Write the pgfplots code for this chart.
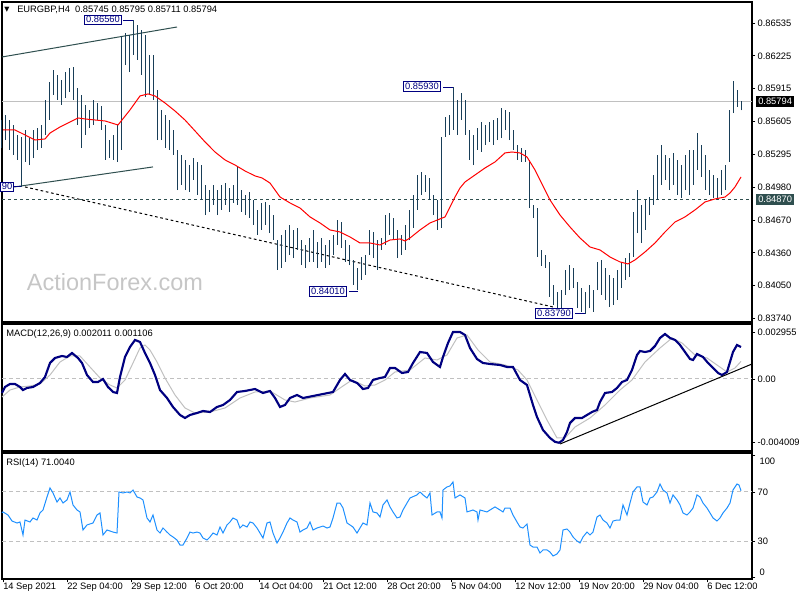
\documentclass[border=0pt]{standalone}
\usepackage{fontspec}
\setmainfont{Liberation Sans}
\newfontfamily\dejavu{DejaVu Sans}
\usepackage{pgfplots}
\usepackage{pgfplotstable}
\pgfplotsset{compat=1.18}
\definecolor{barc}{RGB}{24,62,88}
\definecolor{slate}{RGB}{47,79,79}
\definecolor{macdc}{RGB}{0,0,128}
\definecolor{sigc}{RGB}{192,192,192}
\definecolor{rsic}{RGB}{30,144,255}
\definecolor{lblc}{RGB}{0,0,128}
\definecolor{wm}{RGB}{198,198,198}

\pgfplotstableread{
x h l
1 0.85619 0.85355
5 0.85666 0.85430
9 0.85619 0.85336
13 0.85572 0.85289
17 0.85478 0.85242
21 0.85459 0.84990
25 0.85525 0.85223
29 0.85449 0.85194
33 0.85525 0.85260
37 0.85544 0.85336
41 0.85572 0.85355
45 0.85808 0.85478
49 0.85978 0.85619
53 0.86091 0.85855
57 0.86044 0.85808
61 0.85997 0.85761
65 0.86072 0.85827
69 0.86110 0.85884
73 0.86120 0.85808
77 0.85921 0.85572
81 0.85855 0.85355
85 0.85761 0.85478
89 0.85714 0.85544
93 0.85808 0.85572
97 0.85780 0.85619
101 0.85751 0.85525
105 0.85572 0.85242
109 0.85430 0.85260
113 0.85478 0.85242
117 0.85572 0.85223
121 0.86412 0.85336
125 0.86440 0.86138
129 0.86422 0.86072
133 0.86560 0.86233
137 0.86516 0.86186
141 0.86469 0.86044
145 0.86422 0.85836
149 0.86233 0.85855
153 0.86233 0.85808
157 0.85902 0.85430
161 0.85714 0.85430
165 0.85666 0.85355
169 0.85619 0.85336
173 0.85525 0.85289
177 0.85336 0.84958
181 0.85289 0.85006
185 0.85242 0.84958
189 0.85194 0.84940
193 0.85260 0.85053
197 0.85223 0.84911
201 0.85194 0.84864
205 0.85006 0.84722
209 0.84958 0.84751
213 0.85006 0.84817
217 0.84958 0.84722
221 0.85006 0.84770
225 0.85024 0.84817
229 0.84977 0.84751
233 0.85006 0.84836
237 0.85176 0.84817
241 0.84958 0.84751
245 0.84911 0.84722
249 0.84940 0.84694
253 0.84864 0.84628
257 0.84770 0.84534
261 0.84836 0.84581
265 0.84845 0.84628
269 0.84817 0.84552
273 0.84722 0.84486
277 0.84486 0.84203
281 0.84534 0.84222
285 0.84581 0.84279
289 0.84628 0.84345
293 0.84581 0.84316
297 0.84600 0.84392
301 0.84486 0.84250
305 0.84439 0.84222
309 0.84505 0.84279
313 0.84581 0.84279
317 0.84468 0.84222
321 0.84505 0.84279
325 0.84439 0.84222
329 0.84486 0.84250
333 0.84534 0.84345
337 0.84675 0.84439
341 0.84656 0.84411
345 0.84486 0.84279
349 0.84439 0.84250
353 0.84298 0.84062
357 0.84222 0.84010
361 0.84326 0.84109
365 0.84345 0.84156
369 0.84581 0.84345
373 0.84562 0.84316
377 0.84486 0.84203
381 0.84505 0.84392
385 0.84722 0.84439
389 0.84741 0.84534
393 0.84694 0.84486
397 0.84581 0.84316
401 0.84534 0.84345
405 0.84628 0.84392
409 0.84770 0.84486
413 0.84911 0.84600
417 0.85100 0.84770
421 0.85128 0.84911
425 0.85100 0.84940
429 0.85072 0.84864
433 0.84911 0.84722
437 0.84864 0.84581
441 0.85459 0.84600
445 0.85648 0.85459
449 0.85666 0.85478
453 0.85930 0.85525
457 0.85808 0.85478
461 0.85874 0.85619
465 0.85808 0.85478
469 0.85525 0.85242
473 0.85478 0.85194
477 0.85544 0.85336
481 0.85600 0.85317
485 0.85572 0.85383
489 0.85600 0.85412
493 0.85619 0.85383
497 0.85638 0.85430
501 0.85732 0.85449
505 0.85714 0.85525
509 0.85695 0.85430
513 0.85525 0.85336
517 0.85383 0.85242
521 0.85355 0.85223
525 0.85336 0.85223
529 0.85242 0.84788
533 0.84817 0.84694
537 0.84788 0.84326
541 0.84392 0.84241
545 0.84345 0.84222
549 0.84279 0.83948
553 0.84062 0.83873
557 0.83996 0.83826
561 0.84014 0.83826
565 0.84203 0.83967
569 0.84250 0.84014
573 0.84222 0.84033
577 0.84090 0.83844
581 0.84033 0.83807
585 0.83996 0.83790
589 0.84062 0.83844
593 0.84014 0.83807
597 0.84279 0.84014
601 0.84298 0.83967
605 0.84222 0.83920
609 0.84156 0.83854
613 0.84128 0.83873
617 0.84203 0.83920
621 0.84269 0.84033
625 0.84316 0.84109
629 0.84364 0.84137
633 0.84751 0.84326
637 0.84958 0.84552
641 0.84817 0.84458
645 0.84864 0.84581
649 0.84892 0.84722
653 0.85100 0.84817
657 0.85289 0.84864
661 0.85383 0.85006
665 0.85289 0.85053
669 0.85260 0.84958
673 0.85308 0.85006
677 0.85242 0.84911
681 0.85194 0.84883
685 0.85289 0.84958
689 0.85336 0.84911
693 0.85336 0.85006
697 0.85496 0.85147
701 0.85383 0.85081
705 0.85289 0.84958
709 0.85147 0.84911
713 0.85100 0.84883
717 0.85072 0.84864
721 0.85147 0.84911
725 0.85194 0.84958
729 0.85714 0.85223
733 0.85987 0.85685
737 0.85902 0.85742
741 0.85795 0.85711
}\bars

\pgfplotstableread{
x ma
3 0.85525
15 0.85525
25 0.85478
35 0.85430
45 0.85440
50 0.85496
60 0.85553
70 0.85600
78 0.85638
85 0.85629
95 0.85619
105 0.85610
118 0.85572
130 0.85714
140 0.85846
148 0.85865
155 0.85846
165 0.85780
175 0.85704
185 0.85619
195 0.85516
205 0.85412
215 0.85317
225 0.85242
235 0.85194
245 0.85138
255 0.85091
262 0.85072
270 0.85024
280 0.84892
290 0.84836
300 0.84788
310 0.84704
320 0.84647
330 0.84581
340 0.84562
350 0.84515
360 0.84458
370 0.84458
380 0.84439
390 0.84486
400 0.84496
405 0.84477
410 0.84505
420 0.84581
430 0.84647
440 0.84685
445 0.84704
450 0.84798
455 0.84892
460 0.84977
465 0.85034
475 0.85100
485 0.85166
495 0.85223
505 0.85308
512 0.85317
520 0.85308
527 0.85270
535 0.85147
540 0.85053
550 0.84864
560 0.84722
570 0.84609
580 0.84505
590 0.84420
600 0.84392
610 0.84326
620 0.84279
628 0.84260
635 0.84298
645 0.84373
655 0.84458
665 0.84562
675 0.84656
685 0.84704
695 0.84770
705 0.84845
715 0.84874
725 0.84892
730 0.84930
735 0.84987
741 0.85081
}\mavals

\pgfplotstableread{
x m
2 -0.000880
5 -0.000503
10 -0.000314
15 -0.000314
20 -0.000503
23 -0.000692
27 -0.000566
33 -0.000503
40 -0.000251
45 0.000126
50 0.001006
55 0.001320
62 0.001446
67 0.001383
72 0.001635
78 0.001320
82 0.001006
87 0.000251
93 -0.000189
98 -0.000189
103 0.000000
108 -0.000503
113 -0.000817
117 -0.000880
120 0.000126
125 0.001383
130 0.002012
135 0.002452
140 0.002326
145 0.001635
150 0.001006
155 0.000251
160 -0.000692
167 -0.001195
173 -0.001760
180 -0.002263
185 -0.002452
190 -0.002263
197 -0.002138
203 -0.002012
210 -0.002075
217 -0.001760
223 -0.001635
230 -0.001320
237 -0.000817
245 -0.000754
255 -0.000629
263 -0.000880
270 -0.000754
275 -0.001195
280 -0.001760
285 -0.001635
290 -0.001195
297 -0.001006
303 -0.001195
313 -0.001069
323 -0.000943
333 -0.000817
340 -0.000063
345 0.000314
350 -0.000063
357 -0.000251
363 -0.000629
368 -0.000566
373 -0.000063
380 0.000063
385 0.000126
390 0.000692
395 0.000692
402 0.000377
408 0.000440
413 0.001006
420 0.001697
427 0.001635
433 0.001069
440 0.000754
443 0.001383
448 0.002263
453 0.002955
460 0.002955
465 0.002766
470 0.001949
477 0.001257
483 0.001006
490 0.000943
500 0.000880
507 0.000754
513 0.000754
520 -0.000063
527 -0.000377
533 -0.001635
537 -0.002389
543 -0.003206
550 -0.003709
555 -0.003950
559 -0.004009
563 -0.003835
567 -0.003332
570 -0.002766
575 -0.002452
582 -0.002452
587 -0.002263
592 -0.002075
597 -0.001949
600 -0.001446
605 -0.000880
612 -0.000817
617 -0.000566
622 -0.000189
627 -0.000063
632 0.000566
637 0.001509
640 0.001760
645 0.001697
650 0.001760
655 0.002075
660 0.002578
665 0.002829
670 0.002578
675 0.002452
680 0.002138
685 0.001697
690 0.001257
693 0.001195
697 0.001572
703 0.001383
708 0.001006
713 0.000692
718 0.000377
722 0.000251
727 0.000440
730 0.001069
733 0.001697
737 0.002138
741 0.002011
}\macd

\pgfplotstableread{
x s
2 -0.001132
10 -0.000692
20 -0.000503
30 -0.000440
40 -0.000314
50 0.000251
60 0.001069
70 0.001446
80 0.001446
90 0.000754
100 0.000063
110 -0.000377
117 -0.000566
125 -0.000063
133 0.001006
140 0.001949
145 0.002138
150 0.001823
157 0.001069
165 0.000063
175 -0.001006
185 -0.001823
195 -0.002138
210 -0.002075
225 -0.001823
240 -0.001195
255 -0.000817
270 -0.000754
285 -0.001320
295 -0.001446
310 -0.001195
330 -0.001006
343 -0.000440
352 -0.000063
365 -0.000440
375 -0.000377
385 -0.000063
395 0.000440
410 0.000566
425 0.001320
437 0.001195
447 0.001509
457 0.002578
467 0.002766
478 0.001823
490 0.001069
505 0.000880
518 0.000566
527 -0.000063
537 -0.001320
547 -0.002578
557 -0.003709
565 -0.003709
575 -0.003018
590 -0.002452
605 -0.001635
620 -0.000692
632 -0.000063
645 0.001069
660 0.001949
672 0.002578
682 0.002263
695 0.001509
707 0.001320
717 0.000880
727 0.000440
735 0.000692
741 0.001106
}\signal

\pgfplotstableread{
x r
2 52.9
3 53.7
8 51.2
12 46.3
17 44.7
20 45.5
23 34.9
25 47.1
30 45.5
33 48.8
37 47.1
40 52.9
43 55.3
47 65.9
50 73.3
53 69.2
57 61.8
60 65.1
63 61.0
67 63.5
70 70.0
73 59.4
77 55.3
80 53.7
83 39.0
87 43.1
93 44.7
97 51.2
100 52.9
103 34.9
107 39.0
113 37.3
117 36.5
119 70.0
123 69.2
127 70.0
130 69.2
133 71.6
137 65.9
140 65.1
143 63.5
147 48.8
150 45.5
153 51.2
157 39.0
160 36.5
163 40.6
167 37.3
170 34.9
173 33.3
177 30.8
180 26.7
183 26.7
187 32.4
190 37.3
193 36.5
197 37.3
200 36.5
203 32.4
207 30.8
210 33.3
213 36.5
217 34.9
220 41.4
223 36.5
227 43.1
230 45.5
233 48.8
237 47.1
240 40.6
243 43.1
247 41.4
250 45.5
253 44.7
257 40.6
260 36.5
263 32.4
267 44.7
270 45.5
273 36.5
277 28.4
280 32.4
283 37.3
287 44.7
290 48.8
293 47.1
297 45.5
300 37.3
303 39.0
307 40.6
310 45.5
313 39.0
317 40.6
320 41.4
323 42.2
327 40.6
330 41.4
333 48.8
337 61.0
340 61.0
343 56.9
347 44.7
350 43.1
353 41.4
357 36.5
360 40.6
363 44.7
367 43.1
370 61.0
373 53.7
377 52.9
380 49.6
383 59.4
387 63.5
390 57.8
393 53.7
397 48.8
400 49.6
403 55.3
407 61.0
410 65.1
417 67.6
420 70.0
423 67.6
427 65.1
430 69.2
432 51.2
437 53.7
440 53.7
442 48.8
443 71.6
447 74.1
450 74.9
453 78.2
455 65.1
460 67.6
465 65.1
467 53.7
473 55.3
477 53.7
478 47.1
480 55.3
487 53.7
490 55.3
495 57.8
500 55.3
503 53.7
505 56.9
510 56.9
513 51.2
517 45.5
520 41.4
523 40.6
527 43.9
530 26.7
533 25.1
537 25.1
540 20.2
543 22.7
547 22.7
550 21.0
553 17.8
557 19.4
560 22.7
563 39.0
567 39.8
570 37.3
573 33.3
577 30.0
580 28.4
583 33.3
587 37.3
590 34.9
593 37.3
597 49.6
600 51.2
603 47.1
607 44.7
610 40.6
613 46.3
617 47.1
620 47.1
623 59.4
627 51.2
630 61.0
633 70.0
637 74.1
640 74.1
643 61.8
647 59.4
650 65.1
653 65.9
657 70.0
660 76.5
663 71.6
667 69.2
670 61.0
673 67.6
677 63.5
680 59.4
683 52.9
687 51.2
690 53.7
693 56.9
697 67.6
700 65.9
703 61.0
707 56.9
710 52.9
713 48.8
717 46.3
720 48.8
723 52.9
727 56.9
730 61.0
733 71.6
737 76.5
739 75.7
741 71.0
}\rsi

\pgfplotsset{
  mtframe/.style={
    scale only axis, anchor=south west, width=562.5pt,
    xmin=2, xmax=752, clip=false,
    axis line style={line width=1pt},
    scaled y ticks=false,
    ytick pos=right, yticklabel pos=right,
    tick align=outside, major tick length=2.5pt,
    tick style={black, line width=0.6pt},
    yticklabel style={font=\fontsize{7}{8}\selectfont, anchor=west, inner sep=0pt, xshift=1.5pt},
  },
}

\begin{document}
\begin{tikzpicture}
\path[use as bounding box] (0,0) rectangle (600pt,450pt);

% ---------------- price panel
\begin{axis}[mtframe,
  at={(1.5pt,208.5pt)}, height=240pt,
  ymin=0.83712, ymax=0.86733,
  xtick=\empty,
  ytick={0.86535,0.86225,0.85915,0.85605,0.85295,0.84985,0.84675,0.84365,0.84055,0.83745},
  yticklabels={0.86535,0.86225,0.85915,0.85605,0.85295,0.84980,0.84670,0.84360,0.84050,0.83740},
]
\node[text=wm, font=\fontsize{17.6}{20}\selectfont] at (axis cs:115,0.84090) {ActionForex.com};
\addplot[sigc, line width=0.75pt] coordinates {(2,0.85794) (752,0.85794)};
\addplot[slate, line width=0.75pt, dash pattern=on 2.5pt off 2pt] coordinates {(2,0.84870) (752,0.84870)};
\addplot[slate, line width=0.75pt] coordinates {(2,0.86214) (177,0.86497)};
\addplot[slate, line width=0.75pt] coordinates {(7,0.84977) (153,0.85176)};
\addplot[black, line width=0.75pt, dash pattern=on 2pt off 2pt] coordinates {(25,0.84987) (553,0.83854)};
\addplot[draw=none, mark=none,
  error bars/.cd, y dir=plus, y explicit, error mark=none,
  error bar style={draw=barc, solid, line width=0.75pt}]
  table[x=x, y=l, y error plus expr=\thisrow{h}-\thisrow{l}] {\bars};
\addplot[red, line width=0.75pt] table[x=x, y=ma] {\mavals};
% labels of swing points
\draw[lblc, line width=0.6pt] (axis cs:123,0.86560) -- (axis cs:133,0.86560);
\node[draw=lblc, fill=white, text=lblc, font=\fontsize{7}{8}\selectfont, inner sep=1pt, line width=0.6pt] at (axis cs:103,0.86566) {0.86560};
\draw[lblc, line width=0.6pt] (axis cs:443,0.85930) -- (axis cs:453,0.85930);
\node[draw=lblc, fill=white, text=lblc, font=\fontsize{7}{8}\selectfont, inner sep=1pt, line width=0.6pt] at (axis cs:422,0.85936) {0.85930};
\draw[lblc, line width=0.6pt] (axis cs:349,0.84005) -- (axis cs:358,0.84005);
\node[draw=lblc, fill=white, text=lblc, font=\fontsize{7}{8}\selectfont, inner sep=1pt, line width=0.6pt] at (axis cs:328,0.84000) {0.84010};
\draw[lblc, line width=0.6pt] (axis cs:575,0.83795) -- (axis cs:585,0.83795);
\node[draw=lblc, fill=white, text=lblc, font=\fontsize{7}{8}\selectfont, inner sep=1pt, line width=0.6pt] at (axis cs:554,0.83793) {0.83790};
\draw[lblc, line width=0.6pt] (axis cs:13,0.84990) -- (axis cs:21,0.84990);
\node[draw=lblc, fill=white, text=lblc, font=\fontsize{7}{8}\selectfont, inner sep=1pt, line width=0.6pt, anchor=east] at (axis cs:14,0.84990) {90};
% title
\node[anchor=west, inner sep=0pt, font=\dejavu\fontsize{5}{6}\selectfont] at (axis cs:4,0.86660) {▼};
\node[anchor=west, inner sep=0pt, font=\fontsize{7}{8}\selectfont] at (axis cs:17,0.86660) {EURGBP,H4\ \ 0.85745 0.85795 0.85711 0.85794};
% price boxes
\node[anchor=west, fill=black, text=white, inner sep=1.5pt, font=\fontsize{7}{8}\selectfont, xshift=3pt] at (axis cs:752,0.85794) {0.85794};
\node[anchor=west, fill=slate, text=white, inner sep=1.5pt, font=\fontsize{7}{8}\selectfont, xshift=3pt] at (axis cs:752,0.84870) {0.84870};
\end{axis}

% ---------------- MACD panel
\begin{axis}[mtframe,
  at={(1.5pt,111.75pt)}, height=95.25pt,
  ymin=-0.004527, ymax=0.003458,
  xtick=\empty,
  ytick={-0.004009,0,0.002955},
  yticklabels={-0.004009,0.00,0.002955},
]
\addplot[sigc, line width=0.75pt, dash pattern=on 3pt off 2.25pt] coordinates {(2,0) (752,0)};
\addplot[sigc, line width=0.75pt] table[x=x, y=s] {\signal};
\addplot[macdc, line width=1.6pt] table[x=x, y=m] {\macd};
\addplot[black, line width=0.75pt] coordinates {(560,-0.004087) (752,0.000943)};
\node[anchor=west, inner sep=0pt, font=\fontsize{7}{8}\selectfont] at (axis cs:6,0.00283) {MACD(12,26,9) 0.002011 0.001106};
\end{axis}

% ---------------- RSI panel
\begin{axis}[mtframe,
  at={(1.5pt,15.75pt)}, height=94.5pt,
  ymin=-1.0, ymax=101.8,
  ytick={30,70},
  yticklabels={30,70},
  extra y ticks={0,100}, extra y tick labels={},
  xtick={3,67,131,195,259,323,387,451,515,579,643,707},
  xticklabels={14 Sep 2021,22 Sep 04:00,29 Sep 12:00,6 Oct 20:00,14 Oct 04:00,21 Oct 12:00,28 Oct 20:00,5 Nov 04:00,12 Nov 12:00,19 Nov 20:00,29 Nov 04:00,6 Dec 12:00},
  xtick pos=bottom,
  xticklabel style={font=\fontsize{7}{8}\selectfont, anchor=north west, inner sep=0pt},
]
\addplot[sigc, line width=0.75pt, dash pattern=on 3pt off 2.25pt] coordinates {(2,70) (752,70)};
\addplot[sigc, line width=0.75pt, dash pattern=on 3pt off 2.25pt] coordinates {(2,30) (752,30)};
\addplot[rsic, line width=0.75pt] table[x=x, y=r] {\rsi};
\node[anchor=west, inner sep=0pt, font=\fontsize{7}{8}\selectfont] at (axis cs:6,93.7) {RSI(14) 71.0040};
\node[anchor=west, inner sep=0pt, font=\fontsize{7}{8}\selectfont, xshift=5.5pt] at (axis cs:752,95.3) {100};
\node[anchor=west, inner sep=0pt, font=\fontsize{7}{8}\selectfont, xshift=5.5pt] at (axis cs:752,4.7) {0};
\end{axis}
\end{tikzpicture}
\end{document}
